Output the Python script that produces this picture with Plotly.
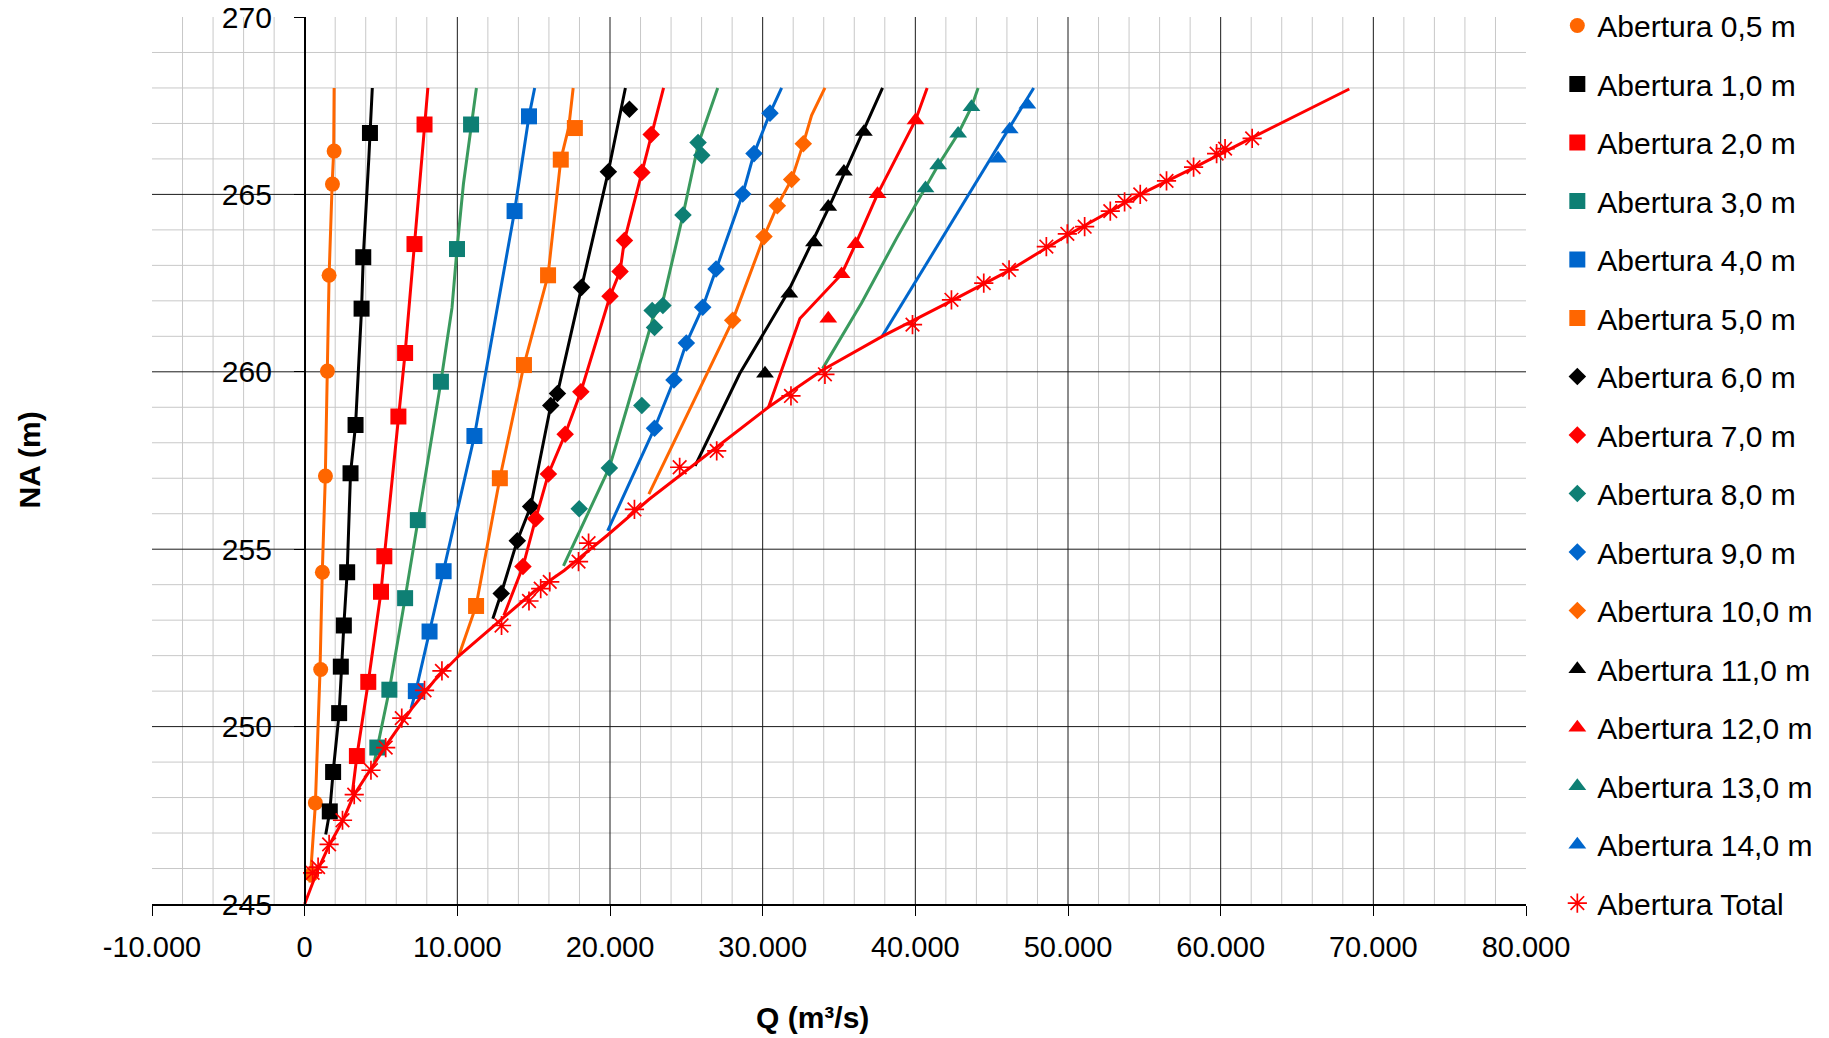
import plotly.graph_objects as go

# ---------------- data (Q in m3/s, NA in m) ----------------
names = ["Abertura 0,5 m", "Abertura 1,0 m", "Abertura 2,0 m", "Abertura 3,0 m",
         "Abertura 4,0 m", "Abertura 5,0 m", "Abertura 6,0 m", "Abertura 7,0 m",
         "Abertura 8,0 m", "Abertura 9,0 m", "Abertura 10,0 m", "Abertura 11,0 m",
         "Abertura 12,0 m", "Abertura 13,0 m", "Abertura 14,0 m", "Abertura Total"]

# observed points (markers)
q05 = [440, 700, 1050, 1160, 1360, 1490, 1600, 1820, 1930]
na05 = [245.83, 247.85, 251.61, 254.35, 257.06, 260.02, 262.72, 265.29, 266.22]
q10 = [1645, 1864, 2259, 2368, 2566, 2785, 3004, 3333, 3728, 3838, 4276]
na10 = [247.61, 248.72, 250.38, 251.69, 252.85, 254.35, 257.14, 258.50, 261.78, 263.23, 266.73]
q20 = [3421, 4167, 5000, 5219, 6140, 6579, 7193, 7851]
na20 = [249.17, 251.26, 253.80, 254.80, 258.74, 260.53, 263.60, 266.97]
q30 = [4759, 5548, 6579, 7412, 8925, 9978, 10899]
na30 = [249.41, 251.04, 253.62, 255.82, 259.72, 263.46, 266.97]
q40 = [7281, 8180, 9101, 11119, 13750, 14693]
na40 = [251.00, 252.68, 254.38, 258.19, 264.53, 267.20]
q50 = [11228, 12785, 14364, 15943, 16776, 17698]
na50 = [253.40, 257.00, 260.19, 262.72, 265.98, 266.87]
q60 = [12873, 13926, 14803, 16119, 16557, 18136, 19890, 21272]
na60 = [253.75, 255.24, 256.20, 259.05, 259.39, 262.38, 265.64, 267.40]
q70 = [14298, 15132, 15965, 17062, 18092, 20000, 20658, 20943, 22084, 22698]
na70 = [254.51, 255.86, 257.12, 258.24, 259.44, 262.13, 262.83, 263.70, 265.62, 266.69]
q80 = [17983, 19956, 22084, 22917, 22763, 23465, 24781, 26009, 25768]
na80 = [256.14, 257.29, 259.05, 261.25, 261.73, 261.87, 264.42, 266.10, 266.46]
q90 = [22917, 24189, 25000, 26074, 26947, 28691, 29433, 30480]
na90 = [258.41, 259.77, 260.81, 261.82, 262.90, 265.01, 266.15, 267.29]
q100 = [28037, 30087, 30960, 31897, 32661]
na100 = [261.45, 263.81, 264.68, 265.42, 266.43]
q110 = [30153, 31745, 33359, 34297, 35322, 36630]
na110 = [259.95, 262.20, 263.65, 264.65, 265.64, 266.76]
q120 = [34297, 35169, 36085, 37524, 40011]
na120 = [261.50, 262.75, 263.60, 265.01, 267.09]
q130 = [40665, 41494, 42803, 43675]
na130 = [265.17, 265.82, 266.71, 267.46]
q140 = [45419, 46183, 47339]
na140 = [266.01, 266.83, 267.53]
qT = [520, 880, 1601, 2478, 3246, 4342, 5307, 6360, 7851, 8991, 12895, 14693, 15461, 16053,
      17939, 18597, 21601, 24562, 26990, 31854, 34078, 39815, 42366, 44482, 46139, 48582,
      49956, 51090, 52770, 53707, 54732, 56453, 58226, 59734, 60288, 62062]
naT = [245.88, 246.04, 246.68, 247.36, 248.08, 248.77, 249.41, 250.24, 251.02, 251.57, 252.85,
       253.54, 253.89, 254.08, 254.65, 255.17, 256.12, 257.31, 257.77, 259.32, 259.93, 261.33,
       262.03, 262.50, 262.87, 263.53, 263.89, 264.09, 264.53, 264.79, 265.00, 265.38, 265.77,
       266.15, 266.29, 266.58]

# fitted curves (lines)
lq05 = [350, 700, 1000, 1150, 1350, 1480, 1600, 1800, 1900, 1930]
lna05 = [245.6, 247.8, 251.5, 254.3, 257.0, 260.0, 262.7, 265.3, 266.2, 268.0]
lq10 = [1380, 1645, 1864, 2259, 2566, 2785, 3004, 3333, 3728, 3838, 4200, 4430]
lna10 = [246.96, 247.61, 248.72, 250.38, 252.85, 254.35, 257.14, 258.5, 261.78, 263.23, 266.0, 268.0]
lq20 = [3114, 3421, 4167, 5000, 5219, 6140, 6579, 7193, 7851, 8070]
lna20 = [248.1, 249.17, 251.26, 253.8, 254.8, 258.74, 260.53, 263.6, 266.97, 268.0]
lq30 = [4561, 4759, 5548, 6579, 7412, 8925, 9650, 9978, 10400, 11250]
lna30 = [249.0, 249.41, 251.04, 253.62, 255.82, 259.72, 261.8, 263.46, 265.3, 268.0]
lq40 = [6974, 7281, 8180, 9101, 11119, 13750, 14693, 15066]
lna40 = [250.52, 251.0, 252.68, 254.38, 258.19, 264.53, 267.2, 268.0]
lq50 = [10088, 11228, 12785, 14364, 15943, 16776, 17300, 17588]
lna50 = [251.99, 253.40, 257.0, 260.19, 262.72, 265.98, 266.9, 268.0]
lq60 = [12325, 12873, 13926, 14803, 16119, 16557, 18136, 19890, 21009]
lna60 = [253.04, 253.75, 255.24, 256.2, 259.05, 259.39, 262.38, 265.64, 268.0]
lq70 = [13048, 14298, 15132, 15965, 17062, 18092, 20000, 20658, 20943, 22084, 22698, 23509]
lna70 = [253.13, 254.51, 255.86, 257.12, 258.24, 259.44, 262.13, 262.83, 263.70, 265.62, 266.69, 268.0]
lq80 = [16952, 19956, 21160, 22800, 23470, 24781, 25790, 27056]
lna80 = [254.53, 257.30, 259.05, 261.5, 262.0, 264.42, 266.43, 268.0]
lq90 = [19847, 22917, 24189, 25000, 26074, 26947, 28691, 29433, 30480, 31243]
lna90 = [255.52, 258.41, 259.77, 260.81, 261.82, 262.90, 265.01, 266.15, 267.29, 268.0]
lq100 = [22544, 28037, 30087, 30960, 31897, 32661, 33206, 34078]
lna100 = [256.55, 261.45, 263.81, 264.68, 265.42, 266.43, 267.23, 268.0]
lq110 = [25573, 28500, 31600, 33200, 34300, 35250, 36500, 37852]
lna110 = [257.35, 259.95, 262.2, 263.6, 264.6, 265.5, 266.7, 268.0]
lq120 = [30371, 32440, 35169, 36085, 37524, 38986, 40011, 40774]
lna120 = [258.99, 261.50, 262.75, 263.60, 265.01, 266.25, 267.09, 268.0]
lq130 = [33926, 36478, 38767, 40665, 41494, 42803, 43675, 44111]
lna130 = [260.09, 261.94, 263.76, 265.17, 265.82, 266.71, 267.46, 268.0]
lq140 = [37830, 44962, 47753]
lna140 = [261.0, 266.01, 268.0]
lqT = [0, 800, 1600, 2500, 3200, 4500, 5300, 7000, 8500, 10088, 12800, 15000, 17000, 19847,
       22544, 25573, 30371, 33926, 37830, 42366, 46139, 49956, 54732, 58226, 62062, 68425]
lnaT = [245.0, 245.9, 246.65, 247.35, 248.05, 248.9, 249.45, 250.5, 251.3, 251.99, 253.0,
        253.8, 254.4, 255.4, 256.4, 257.4, 259.0, 260.05, 261.0, 262.0, 262.85, 263.85,
        265.0, 265.75, 266.6, 267.97]

x_tick_vals = [-10000, 0, 10000, 20000, 30000, 40000, 50000, 60000, 70000, 80000]
x_tick_text = ["-10.000", "0", "10.000", "20.000", "30.000", "40.000", "50.000",
               "60.000", "70.000", "80.000"]
y_tick_vals = [245, 250, 255, 260, 265, 270]
X_MIN, X_MAX, X_MINOR = -10000, 80000, 2000
Y_MIN, Y_MAX, Y_MINOR = 245, 270, 1

# ---------------- styling ----------------
ORANGE = "#FF6600"
BLACK = "#000000"
RED = "#FF0000"
TEAL_M = "#0E7F74"
TEAL_L = "#3A9A5E"
BLUE = "#0066CC"

pts = [(q05, na05), (q10, na10), (q20, na20), (q30, na30), (q40, na40), (q50, na50),
       (q60, na60), (q70, na70), (q80, na80), (q90, na90), (q100, na100), (q110, na110),
       (q120, na120), (q130, na130), (q140, na140), (qT, naT)]
lines = [(lq05, lna05), (lq10, lna10), (lq20, lna20), (lq30, lna30), (lq40, lna40),
         (lq50, lna50), (lq60, lna60), (lq70, lna70), (lq80, lna80), (lq90, lna90),
         (lq100, lna100), (lq110, lna110), (lq120, lna120), (lq130, lna130),
         (lq140, lna140), (lqT, lnaT)]
mcolors = [ORANGE, BLACK, RED, TEAL_M, BLUE, ORANGE, BLACK, RED, TEAL_M, BLUE, ORANGE,
           BLACK, RED, TEAL_M, BLUE, RED]
lcolors = [ORANGE, BLACK, RED, TEAL_L, BLUE, ORANGE, BLACK, RED, TEAL_L, BLUE, ORANGE,
           BLACK, RED, TEAL_L, BLUE, RED]
symbols = ["circle"] + ["square"] * 5 + ["diamond"] * 5 + ["triangle-up"] * 4 + ["asterisk-open"]
sizes = [15] + [16] * 5 + [13.5] * 5 + [15.5] * 4 + [16]

fig = go.Figure()
for i, name in enumerate(names):
    lx, ly = lines[i]
    fig.add_trace(go.Scatter(x=lx, y=ly, mode="lines", legendgroup=name, showlegend=False,
                             line=dict(color=lcolors[i], width=3), hoverinfo="skip"))
    px_, py_ = pts[i]
    if symbols[i] == "asterisk-open":
        marker = dict(symbol="asterisk-open", size=sizes[i], color=mcolors[i],
                      line=dict(color=mcolors[i], width=1.7))
    else:
        marker = dict(symbol=symbols[i], size=sizes[i], color=mcolors[i], line=dict(width=0))
    fig.add_trace(go.Scatter(x=px_, y=py_, mode="markers", name=name, legendgroup=name,
                             marker=marker))

# grid lines (major black, minor light grey), not drawn on the outer frame
MINOR_C = "#c8c8c8"
MAJOR_C = "#1a1a1a"
shapes = []
x_minor = [v for v in range(X_MIN + X_MINOR, X_MAX, X_MINOR) if v % 10000 != 0]
x_major = [v for v in x_tick_vals if X_MIN < v < X_MAX]
y_minor = [v for v in range(Y_MIN + Y_MINOR, Y_MAX, Y_MINOR) if v % 5 != 0]
y_major = [v for v in y_tick_vals if Y_MIN < v < Y_MAX]
for v in x_minor:
    shapes.append(dict(type="line", xref="x", yref="y", x0=v, x1=v, y0=Y_MIN, y1=Y_MAX,
                       line=dict(color=MINOR_C, width=1), layer="below"))
for v in y_minor:
    shapes.append(dict(type="line", xref="x", yref="y", x0=X_MIN, x1=X_MAX, y0=v, y1=v,
                       line=dict(color=MINOR_C, width=1), layer="below"))
for v in x_major:
    shapes.append(dict(type="line", xref="x", yref="y", x0=v, x1=v, y0=Y_MIN, y1=Y_MAX,
                       line=dict(color=MAJOR_C, width=1), layer="below"))
for v in y_major:
    shapes.append(dict(type="line", xref="x", yref="y", x0=X_MIN, x1=X_MAX, y0=v, y1=v,
                       line=dict(color=MAJOR_C, width=1), layer="below"))

FONT = "Liberation Sans, Arial, sans-serif"
# the page body adds an 8px offset, so the figure is 8px smaller and margins shifted
fig.update_layout(
    width=1821, height=1030,
    margin=dict(l=144, r=303, t=9, b=134, autoexpand=False),
    paper_bgcolor="white", plot_bgcolor="white",
    font=dict(family=FONT, size=30, color="black"),
    showlegend=True,
    shapes=shapes,
    legend=dict(x=1.0228, y=1.0197, xanchor="left", yanchor="top", tracegroupgap=16.5,
                font=dict(family=FONT, size=30, color="black"), bgcolor="rgba(0,0,0,0)",
                itemsizing="trace", maxheight=1030),
    xaxis=dict(range=[X_MIN, X_MAX], tickvals=x_tick_vals, ticktext=x_tick_text,
               showgrid=False, zeroline=False, automargin=False,
               showline=True, linecolor="black", linewidth=1.5,
               ticks="outside", ticklen=10, tickcolor="black", tickwidth=1,
               ticklabelstandoff=6, ticklabeloverflow="allow",
               tickfont=dict(family=FONT, size=29)),
    yaxis=dict(range=[Y_MIN, Y_MAX], tickvals=y_tick_vals, anchor="free",
               position=(0 - X_MIN) / (X_MAX - X_MIN),
               showgrid=False, zeroline=False, automargin=False,
               showline=True, linecolor="black", linewidth=1.5,
               ticks="outside", ticklen=10, tickcolor="black", tickwidth=1,
               ticklabelstandoff=16, ticklabeloverflow="allow",
               tickfont=dict(family=FONT, size=30)),
    annotations=[
        dict(text="<b>Q (m³/s)</b>", xref="paper", yref="paper", x=0.481, y=-0.128,
             xanchor="center", yanchor="middle", showarrow=False,
             font=dict(family=FONT, size=30)),
        dict(text="<b>NA (m)</b>", xref="paper", yref="paper", x=-0.0895, y=0.5,
             xanchor="center", yanchor="middle", textangle=-90, showarrow=False,
             font=dict(family=FONT, size=30)),
    ],
)

fig.write_html("out.html")
